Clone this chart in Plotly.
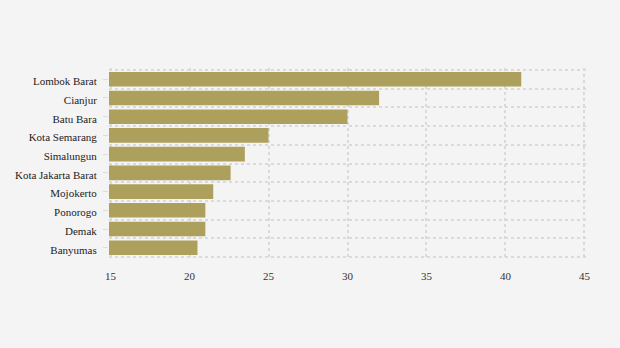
import plotly.graph_objects as go

# Regency / city names, top to bottom
regions = [
    "Lombok Barat", "Cianjur", "Batu Bara", "Kota Semarang", "Simalungun",
    "Kota Jakarta Barat", "Mojokerto", "Ponorogo", "Demak", "Banyumas",
]
values = [41.0, 32.0, 30.0, 25.0, 23.5, 22.6, 21.5, 21.0, 21.0, 20.5]

x_ticks = [15, 20, 25, 30, 35, 40, 45]

positions = list(range(len(regions)))
boundaries = [p - 0.5 for p in positions] + [positions[-1] + 0.5]

fig = go.Figure(
    go.Bar(
        x=values,
        y=positions,
        orientation="h",
        width=0.78,
        marker=dict(color="#ada05d", line=dict(width=0)),
        hovertemplate="%{text}: %{x}<extra></extra>",
        text=regions,
        textposition="none",
    )
)

grid_color = "#dadada"

# ranges padded slightly so the outermost dotted gridlines stay visible
fig.update_layout(
    width=620,
    height=348,
    margin=dict(l=108.7, r=33.7, t=68.4, b=88.5),
    paper_bgcolor="#f4f4f4",
    plot_bgcolor="#f4f4f4",
    font=dict(family="Liberation Serif, Times New Roman, serif", size=11, color="#222222"),
    showlegend=False,
    xaxis=dict(
        range=[14.9, 45.1],
        tickvals=x_ticks,
        showgrid=True,
        gridcolor=grid_color,
        griddash="dot",
        gridwidth=1.5,
        zeroline=False,
        showline=False,
        ticks="",
        ticklabelstandoff=9,
        tickfont=dict(size=11, color="#333333"),
    ),
    yaxis=dict(
        range=[positions[-1] + 0.6, -0.6],
        tickvals=positions,
        ticktext=regions,
        showgrid=False,
        zeroline=False,
        showline=False,
        ticks="outside",
        ticklen=5,
        tickcolor="#dddddd",
        ticklabelstandoff=4,
        ticklabelshift=-2,
        tickfont=dict(size=11, color="#222222"),
        minor=dict(
            tickvals=boundaries,
            showgrid=True,
            gridcolor=grid_color,
            griddash="dot",
            gridwidth=1.5,
            ticks="",
        ),
    ),
)

fig.write_html("out.html")
